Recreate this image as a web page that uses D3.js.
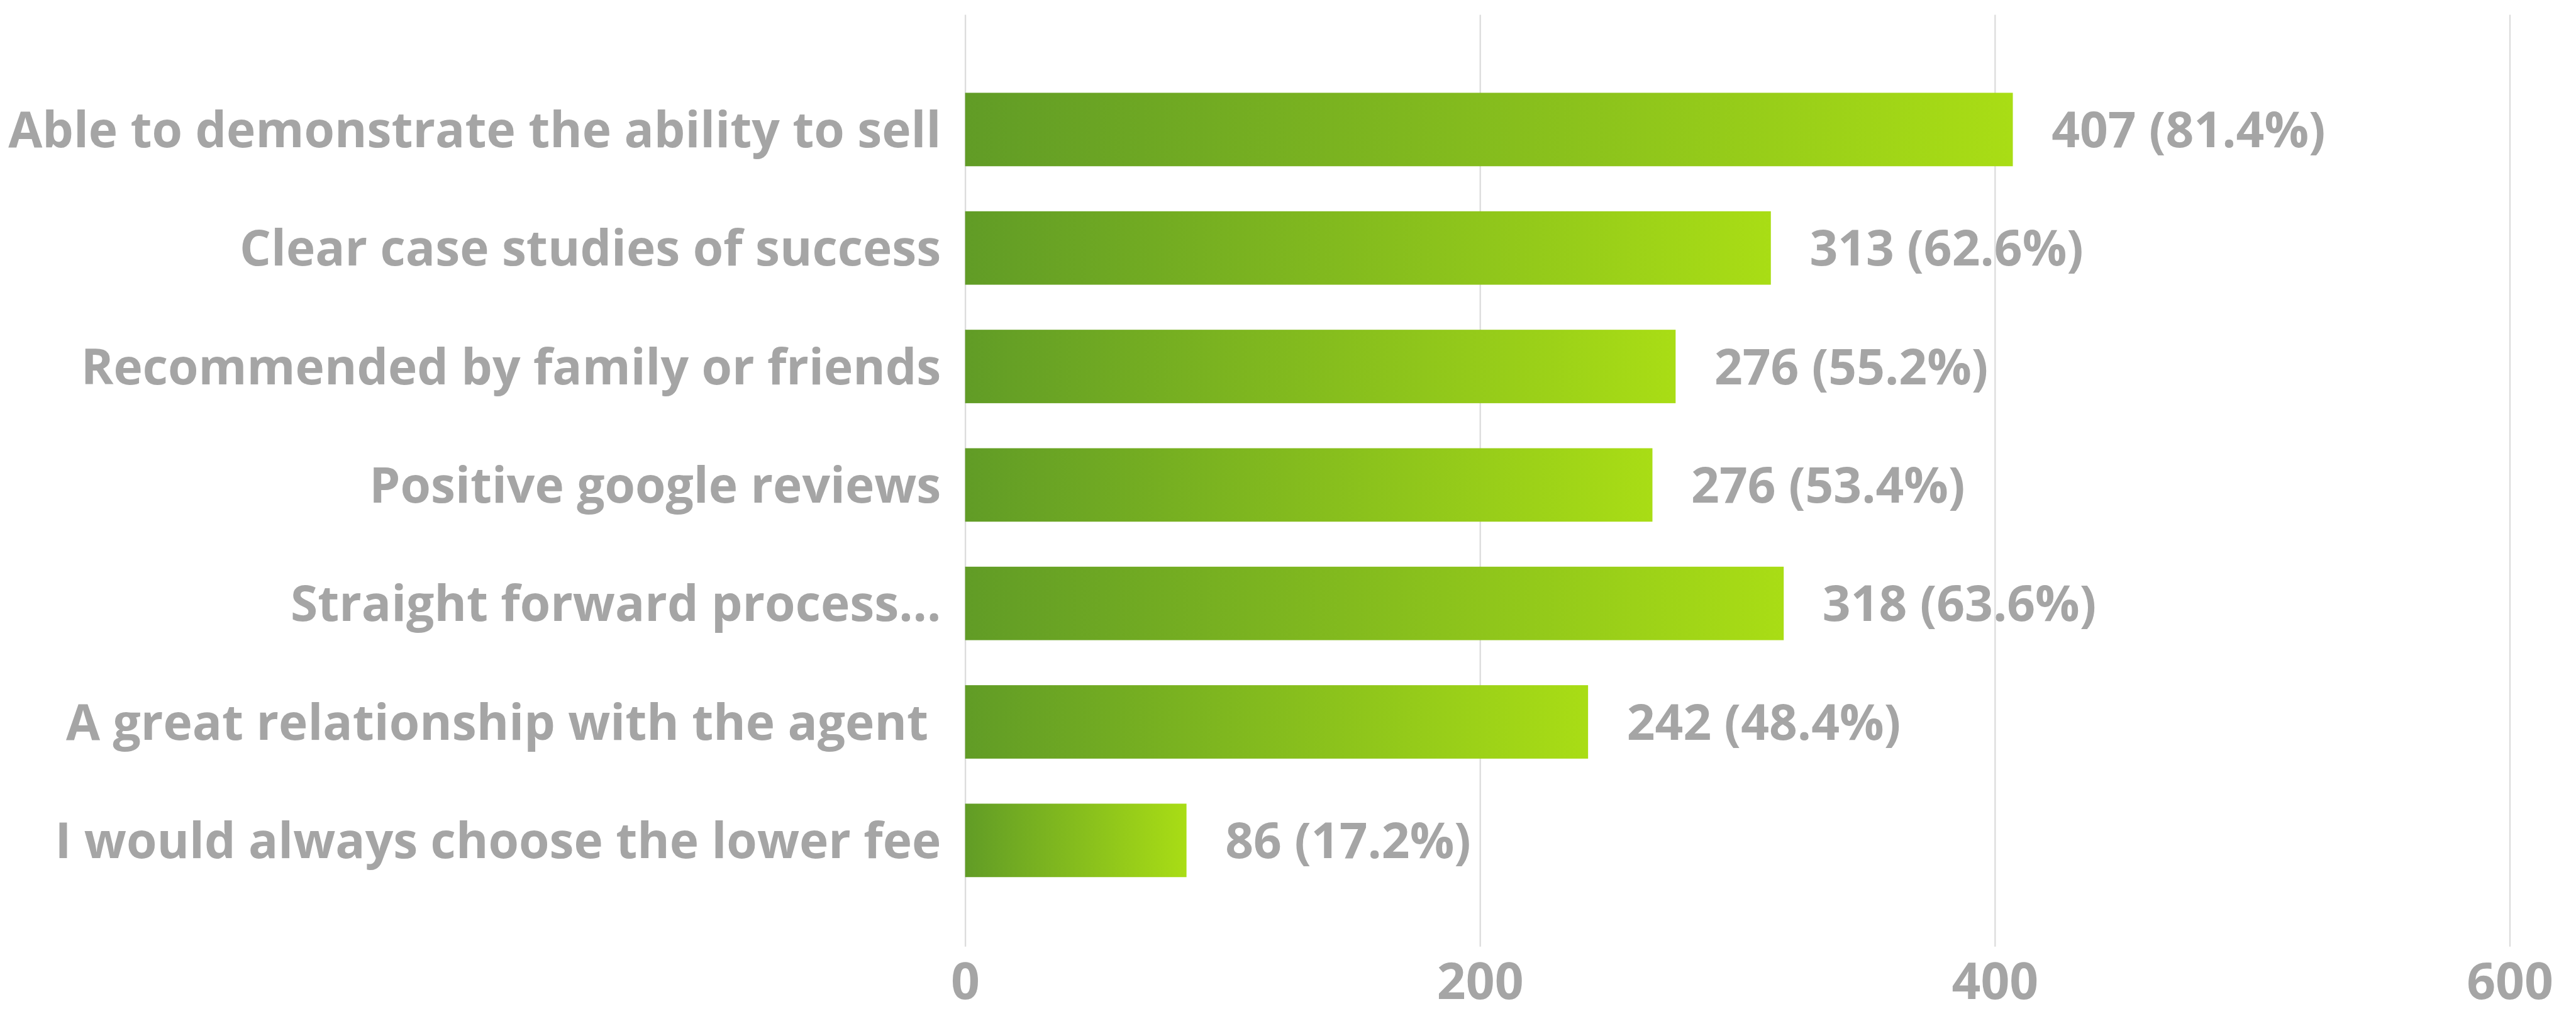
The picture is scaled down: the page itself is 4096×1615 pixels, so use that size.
<!DOCTYPE html>
<html>
<head>
<meta charset="utf-8">
<script src="https://cdn.jsdelivr.net/npm/d3@7/dist/d3.min.js"></script>
<style>
  html, body { margin: 0; padding: 0; background: #ffffff; }
  svg { display: block; }
  text { white-space: pre; }
</style>
</head>
<body>
<svg id="chart"></svg>
<script>
// Survey answers: what matters most when choosing an agent
const categories = [
  "Able to demonstrate the ability to sell",
  "Clear case studies of success",
  "Recommended by family or friends",
  "Positive google reviews",
  "Straight forward process...",
  "A great relationship with the agent ",
  "I would always choose the lower fee"
];
const counts = [407, 313, 276, 276, 318, 242, 86];
const percents = [81.4, 62.6, 55.2, 53.4, 63.6, 48.4, 17.2];
const respondents = 500;
const xTicks = [0, 200, 400, 600];

const W = 4388, H = 1730;
const svg = d3.select("#chart")
  .attr("width", 4096)
  .attr("height", 1615)
  .attr("viewBox", `0 0 ${W} ${H}`);

const rows = categories.map((c, i) => ({
  name: c,
  count: counts[i],
  pct: percents[i],
  value: percents[i] * respondents / 100,
  label: `${counts[i]} (${percents[i].toFixed(1)}%)`
}));

const x = d3.scaleLinear().domain([0, 600]).range([1644, 4275]);
const y = d3.scaleBand()
  .domain(categories)
  .range([119.6, 1531.9])
  .paddingInner(0.38)
  .paddingOuter(0.19);

const textColor = "#a5a5a5";
const labelFont = "'Open Sans', sans-serif";

// bar gradient, dark green to lime, stretched over each bar
const defs = svg.append("defs");
const grad = defs.append("linearGradient")
  .attr("id", "barFill")
  .attr("x1", "0").attr("y1", "0").attr("x2", "1").attr("y2", "0");
grad.append("stop").attr("offset", "0").attr("stop-color", "#619c26");
grad.append("stop").attr("offset", "1").attr("stop-color", "#a9dd15");

// vertical gridlines + value axis
const gridBottom = 1612, gridTop = 25;
const axis = svg.append("g")
  .attr("transform", `translate(0,${gridBottom})`)
  .call(d3.axisBottom(x).tickValues(xTicks).tickSize(-(gridBottom - gridTop)).tickPadding(0));
axis.select(".domain").remove();
axis.selectAll(".tick line").attr("stroke", "#dcdcdc").attr("stroke-width", 2.5);
axis.selectAll(".tick text")
  .attr("y", 89).attr("dy", null)
  .attr("fill", textColor)
  .attr("font-family", "'Open Sans', sans-serif")
  .attr("font-weight", 700)
  .attr("font-size", 86);

// bars
svg.append("g").selectAll("rect")
  .data(rows)
  .join("rect")
  .attr("x", x(0))
  .attr("y", d => y(d.name))
  .attr("width", d => x(d.value) - x(0))
  .attr("height", y.bandwidth())
  .attr("fill", "url(#barFill)");

// category labels
svg.append("g").selectAll("text")
  .data(rows)
  .join("text")
  .attr("x", x(0) - 41)
  .attr("y", d => y(d.name) + y.bandwidth() / 2)
  .attr("dy", "0.36em")
  .attr("text-anchor", "end")
  .attr("fill", textColor)
  .attr("font-family", labelFont)
  .attr("font-weight", 700)
  .attr("font-size", 84)
  .text(d => d.name);

// value labels
svg.append("g").selectAll("text")
  .data(rows)
  .join("text")
  .attr("x", d => x(d.value) + 66)
  .attr("y", d => y(d.name) + y.bandwidth() / 2)
  .attr("dy", "0.36em")
  .attr("fill", textColor)
  .attr("font-family", labelFont)
  .attr("font-weight", 700)
  .attr("font-size", 84)
  .text(d => d.label);
</script>
</body>
</html>
